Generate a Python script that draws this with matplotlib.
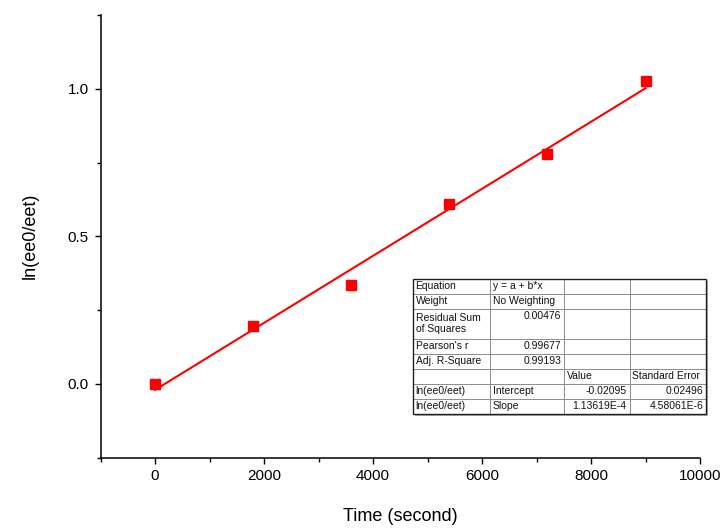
import matplotlib
matplotlib.use("Agg")
import matplotlib.pyplot as plt
from matplotlib.ticker import MultipleLocator
import numpy as np

plt.rcParams['font.family'] = ['Liberation Sans', 'DejaVu Sans']

# measured data
time_s = [0, 1800, 3600, 5400, 7200, 9000]
ln_ratio = [0.0, 0.197, 0.335, 0.608, 0.78, 1.025]

# linear fit results
intercept = -0.02095
slope = 1.13619e-4

table_rows = [
    ["Equation", "y = a + b*x", "", ""],
    ["Weight", "No Weighting", "", ""],
    ["Residual Sum\nof Squares", "0.00476", "", ""],
    ["Pearson's r", "0.99677", "", ""],
    ["Adj. R-Square", "0.99193", "", ""],
    ["", "", "Value", "Standard Error"],
    ["ln(ee0/eet)", "Intercept", "-0.02095", "0.02496"],
    ["ln(ee0/eet)", "Slope", "1.13619E-4", "4.58061E-6"],
]
# alignment of each cell: l = left, r = right
table_align = [
    ["l", "l", "l", "l"],
    ["l", "l", "l", "l"],
    ["l", "r", "l", "l"],
    ["l", "r", "l", "l"],
    ["l", "r", "l", "l"],
    ["l", "l", "l", "l"],
    ["l", "l", "r", "r"],
    ["l", "l", "r", "r"],
]

W, H = 726, 528
fig = plt.figure(figsize=(W / 100, H / 100), dpi=100)
ax = fig.add_axes([100.5 / W, (H - 457.5) / H, 599.5 / W, 442.5 / H])

ax.plot(time_s, ln_ratio, linestyle='none', marker='s', markersize=7.2,
        color='#ff0000', zorder=3)
xfit = np.array([time_s[0], time_s[-1]])
ax.plot(xfit, intercept + slope * xfit, color='#ff0000', lw=1.5, zorder=2)

ax.set_xlim(-1000, 10000)
ax.set_ylim(-0.25, 1.25)
ax.xaxis.set_major_locator(MultipleLocator(2000))
ax.xaxis.set_minor_locator(MultipleLocator(1000))
ax.yaxis.set_major_locator(MultipleLocator(0.5))
ax.yaxis.set_minor_locator(MultipleLocator(0.25))
ax.spines['top'].set_visible(False)
ax.spines['right'].set_visible(False)
for s in ('left', 'bottom'):
    ax.spines[s].set_linewidth(1.1)
ax.tick_params(which='major', direction='out', length=4.5, width=1.0,
               labelsize=11, pad=4)
ax.tick_params(which='minor', direction='out', length=3, width=1.0)
ax.set_xlabel("Time (second)", fontsize=13, labelpad=18)
ax.set_ylabel("ln(ee0/eet)", fontsize=13, labelpad=21)

# fit-results table, drawn in pixel coordinates
tax = fig.add_axes([0, 0, 1, 1], zorder=5)
tax.set_xlim(0, W)
tax.set_ylim(H, 0)
tax.axis('off')

col_x = [412.5, 490, 564, 629.5, 706]
unit = 15.0
row_units = [1, 1, 2, 1, 1, 1, 1, 1]
row_y = [278.5]
for u in row_units:
    row_y.append(row_y[-1] + u * unit)

x0, x1 = col_x[0], col_x[-1]
y0, y1 = row_y[0], row_y[-1]
# shadow
tax.add_patch(plt.Rectangle((x0 + 2, y0 + 2), x1 - x0, y1 - y0,
                            facecolor='#b0b0b0', edgecolor='none', zorder=1))
tax.add_patch(plt.Rectangle((x0, y0), x1 - x0, y1 - y0,
                            facecolor='white', edgecolor='none', zorder=2))
for yy in row_y[1:-1]:
    tax.plot([x0, x1], [yy, yy], color='#8c8c8c', lw=0.7, zorder=3)
for xx in col_x[1:-1]:
    tax.plot([xx, xx], [y0, y1], color='#8c8c8c', lw=0.7, zorder=3)
tax.add_patch(plt.Rectangle((x0, y0), x1 - x0, y1 - y0,
                            facecolor='none', edgecolor='#202020', lw=1.0, zorder=4))

for r, row in enumerate(table_rows):
    for c, txt in enumerate(row):
        if not txt:
            continue
        if table_align[r][c] == 'l':
            tx, ha = col_x[c] + 3, 'left'
        else:
            tx, ha = col_x[c + 1] - 3, 'right'
        if '\n' in txt:
            # two-line label fills the taller row
            tax.text(tx, (row_y[r] + row_y[r + 1]) / 2, txt, ha=ha, va='center',
                     fontsize=7.5, color='#111111', linespacing=1.1, zorder=5)
        else:
            # single-line entries sit in the first line slot of their row
            tax.text(tx, row_y[r] + unit / 2, txt, ha=ha, va='center',
                     fontsize=7.5, color='#111111', zorder=5)

fig.savefig("out.png", dpi=100)
